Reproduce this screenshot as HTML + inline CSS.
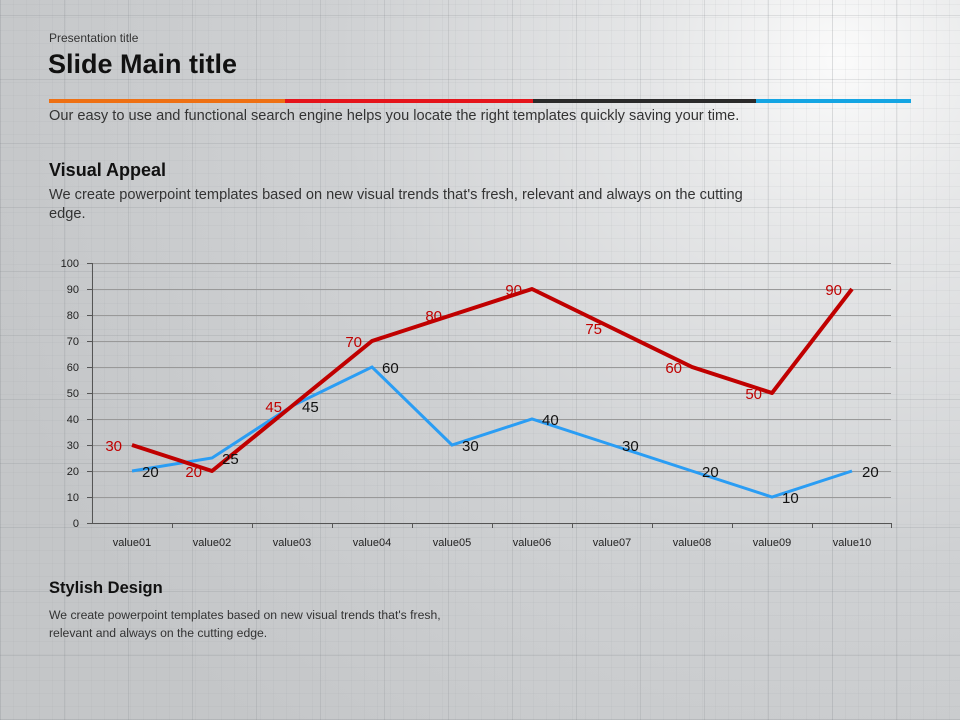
<!DOCTYPE html>
<html><head><meta charset="utf-8"><style>
html,body{margin:0;padding:0}
body{width:960px;height:720px;position:relative;overflow:hidden;font-family:"Liberation Sans",sans-serif;
background:
repeating-linear-gradient(90deg,rgba(120,125,130,0.18) 0 1px,transparent 1px 64px),
repeating-linear-gradient(0deg,rgba(120,125,130,0.18) 0 1px,transparent 1px 64px),
repeating-linear-gradient(90deg,rgba(140,145,150,0.08) 0 1px,transparent 1px 13px),
repeating-linear-gradient(0deg,rgba(140,145,150,0.08) 0 1px,transparent 1px 13px),
radial-gradient(circle at 840px 60px,#fbfbfb 0,#e6e7e8 180px,#cfd1d3 500px,#c4c6c8 900px);}
.t{position:absolute;white-space:nowrap}
</style></head><body>
<div class="t" style="left:49px;top:31px;font-size:12px;color:#333">Presentation title</div>
<div class="t" style="left:48px;top:49px;font-size:27px;font-weight:bold;color:#111">Slide Main title</div>
<div style="position:absolute;top:99px;left:49px;width:236px;height:4px;background:#ee7013"></div>
<div style="position:absolute;top:99px;left:285px;width:248px;height:4px;background:#e5141b"></div>
<div style="position:absolute;top:99px;left:533px;width:223px;height:4px;background:#2a2a2a"></div>
<div style="position:absolute;top:99px;left:756px;width:155px;height:4px;background:#14a5e3"></div>
<div class="t" style="left:49px;top:108px;font-size:14.6px;color:#333">Our easy to use and functional search engine helps you locate the right templates quickly saving your time.</div>
<div class="t" style="left:49px;top:160px;font-size:18px;font-weight:bold;color:#111">Visual Appeal</div>
<div class="t" style="left:49px;top:186px;font-size:14.6px;color:#333;line-height:19px">We create powerpoint templates based on new visual trends that's fresh, relevant and always on the cutting<br>edge.</div>
<div class="t" style="left:49px;top:579px;font-size:16.5px;font-weight:bold;color:#111">Stylish Design</div>
<div class="t" style="left:49px;top:606px;font-size:12.2px;color:#333;line-height:18px">We create powerpoint templates based on new visual trends that's fresh,<br>relevant and always on the cutting edge.</div>
<svg style="position:absolute;left:0;top:0" width="960" height="720" font-family="Liberation Sans,sans-serif">
<g stroke="#999" stroke-width="1">
<line x1="92" y1="263.5" x2="891" y2="263.5"/><line x1="92" y1="289.5" x2="891" y2="289.5"/><line x1="92" y1="315.5" x2="891" y2="315.5"/><line x1="92" y1="341.5" x2="891" y2="341.5"/><line x1="92" y1="367.5" x2="891" y2="367.5"/><line x1="92" y1="393.5" x2="891" y2="393.5"/><line x1="92" y1="419.5" x2="891" y2="419.5"/><line x1="92" y1="445.5" x2="891" y2="445.5"/><line x1="92" y1="471.5" x2="891" y2="471.5"/><line x1="92" y1="497.5" x2="891" y2="497.5"/>
</g>
<g stroke="#555" stroke-width="1">
<line x1="92.5" y1="263" x2="92.5" y2="523"/><line x1="92" y1="523.5" x2="891" y2="523.5"/>
<line x1="87" y1="263.5" x2="92" y2="263.5"/><line x1="87" y1="289.5" x2="92" y2="289.5"/><line x1="87" y1="315.5" x2="92" y2="315.5"/><line x1="87" y1="341.5" x2="92" y2="341.5"/><line x1="87" y1="367.5" x2="92" y2="367.5"/><line x1="87" y1="393.5" x2="92" y2="393.5"/><line x1="87" y1="419.5" x2="92" y2="419.5"/><line x1="87" y1="445.5" x2="92" y2="445.5"/><line x1="87" y1="471.5" x2="92" y2="471.5"/><line x1="87" y1="497.5" x2="92" y2="497.5"/><line x1="87" y1="523.5" x2="92" y2="523.5"/>
<line x1="172.5" y1="523" x2="172.5" y2="528"/><line x1="252.5" y1="523" x2="252.5" y2="528"/><line x1="332.5" y1="523" x2="332.5" y2="528"/><line x1="412.5" y1="523" x2="412.5" y2="528"/><line x1="492.5" y1="523" x2="492.5" y2="528"/><line x1="572.5" y1="523" x2="572.5" y2="528"/><line x1="652.5" y1="523" x2="652.5" y2="528"/><line x1="732.5" y1="523" x2="732.5" y2="528"/><line x1="812.5" y1="523" x2="812.5" y2="528"/><line x1="891.5" y1="523" x2="891.5" y2="528"/>
</g>
<g font-size="11" fill="#222" text-anchor="end">
<text x="79" y="267">100</text><text x="79" y="293">90</text><text x="79" y="319">80</text><text x="79" y="345">70</text><text x="79" y="371">60</text><text x="79" y="397">50</text><text x="79" y="423">40</text><text x="79" y="449">30</text><text x="79" y="475">20</text><text x="79" y="501">10</text><text x="79" y="527">0</text>
</g>
<g font-size="11" fill="#222" text-anchor="middle">
<text x="132" y="546">value01</text><text x="212" y="546">value02</text><text x="292" y="546">value03</text><text x="372" y="546">value04</text><text x="452" y="546">value05</text><text x="532" y="546">value06</text><text x="612" y="546">value07</text><text x="692" y="546">value08</text><text x="772" y="546">value09</text><text x="852" y="546">value10</text>
</g>
<polyline fill="none" stroke="#2a9df4" stroke-width="3" points="132,471 212,458 292,406 372,367 452,445 532,419 612,445 692,471 772,497 852,471"/>
<polyline fill="none" stroke="#c00000" stroke-width="4" stroke-linejoin="round" points="132,445 212,471 292,406 372,341 452,315 532,289 612,328 692,367 772,393 852,289"/>
<g font-size="15" fill="#c00000" text-anchor="end">
<text x="122" y="451">30</text><text x="202" y="477">20</text><text x="282" y="412">45</text><text x="362" y="347">70</text><text x="442" y="321">80</text><text x="522" y="295">90</text><text x="602" y="334">75</text><text x="682" y="373">60</text><text x="762" y="399">50</text><text x="842" y="295">90</text>
</g>
<g font-size="15" fill="#111">
<text x="142" y="477">20</text><text x="222" y="464">25</text><text x="302" y="412">45</text><text x="382" y="373">60</text><text x="462" y="451">30</text><text x="542" y="425">40</text><text x="622" y="451">30</text><text x="702" y="477">20</text><text x="782" y="503">10</text><text x="862" y="477">20</text>
</g>
</svg>
</body></html>
